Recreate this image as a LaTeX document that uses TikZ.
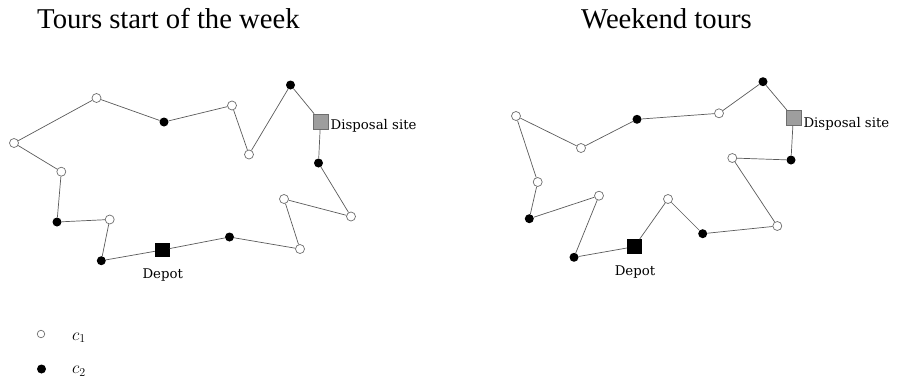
\documentclass[tikz,border=0pt]{standalone}
\usepackage{fontspec}
\usepackage{xcolor}
\usepackage{tikz}
\usetikzlibrary{positioning}
\newfontfamily\titlefont{Liberation Serif}
\newfontfamily\labelfont{DejaVu Serif}
\definecolor{tInk}{HTML}{5A5A5A}
\definecolor{tRim}{HTML}{6E6E6E}
\definecolor{tDump}{HTML}{9E9E9E}

\begin{document}
\begin{tikzpicture}[x=1pt, y=-1pt,
  openpt/.style={circle, draw=tRim, fill=white, line width=0.7pt, minimum size=9pt, inner sep=0pt},
  fullpt/.style={circle, fill=black, minimum size=9pt, inner sep=0pt},
  depotbox/.style={rectangle, fill=black, minimum size=14.5pt, inner sep=0pt},
  dumpbox/.style={rectangle, draw=tRim, fill=tDump, line width=0.5pt, minimum size=15pt, inner sep=0pt},
  tourline/.style={draw=tInk, line width=0.7pt},
  lbl/.style={font=\labelfont\fontsize{13.3}{16}\selectfont, inner sep=0pt},
  keytxt/.style={inner sep=0pt, anchor=base west, font=\fontsize{18}{21}\selectfont},
  ttl/.style={font=\titlefont\fontsize{28.7}{34}\selectfont, inner sep=0pt, anchor=base west}]
  \useasboundingbox (0,0) rectangle (900,378);

  % titles
  \node[ttl] (ttlA) at (37,28.3) {Tours start of the week};
  \node[ttl] (ttlB) at (581,28.3) {Weekend tours};

  % tours start of the week
  \node[openpt] (w1) at (14,143) {};
  \node[openpt] (w2) at (96.5,98) {};
  \node[fullpt] (w3) at (164,122) {};
  \node[openpt] (w4) at (232,105.5) {};
  \node[openpt] (w5) at (249,154.5) {};
  \node[fullpt] (w6) at (290.5,85) {};
  \node[dumpbox] (dumpA) at (320.5,121.5) {};
  \node[fullpt] (w7) at (318.5,163) {};
  \node[openpt] (w8) at (351,216.5) {};
  \node[openpt] (w9) at (284,199) {};
  \node[openpt] (w10) at (300,249) {};
  \node[fullpt] (w11) at (229.5,237) {};
  \node[depotbox] (depotA) at (162.3,250) {};
  \node[fullpt] (w12) at (101.3,260.7) {};
  \node[openpt] (w13) at (109.7,219.5) {};
  \node[fullpt] (w14) at (57,222) {};
  \node[openpt] (w15) at (61.3,171.7) {};
  \draw[tourline] (w1) -- (w2) -- (w3) -- (w4) -- (w5) -- (w6) -- (dumpA) -- (w7) -- (w8) -- (w9)
    -- (w10) -- (w11) -- (depotA) -- (w12) -- (w13) -- (w14) -- (w15) -- (w1);
  \node[lbl, anchor=base west] (dumpAtxt) at (330.5,129.3) {Disposal site};
  \node[lbl, anchor=base] (depotAtxt) at (162.7,278.3) {Depot};

  % weekend tours
  \node[openpt] (r1) at (516,116) {};
  \node[openpt] (r2) at (581,148) {};
  \node[fullpt] (r3) at (637,119.3) {};
  \node[openpt] (r4) at (719,113.3) {};
  \node[fullpt] (r5) at (763,81.7) {};
  \node[dumpbox] (dumpB) at (793.3,117.7) {};
  \node[fullpt] (r6) at (791,160) {};
  \node[openpt] (r7) at (732.3,158) {};
  \node[openpt] (r8) at (777.3,226) {};
  \node[fullpt] (r9) at (702.7,233.7) {};
  \node[openpt] (r10) at (668,199) {};
  \node[depotbox] (depotB) at (634.3,246.7) {};
  \node[fullpt] (r11) at (574,257.3) {};
  \node[openpt] (r12) at (599,195.7) {};
  \node[fullpt] (r13) at (529.3,218.7) {};
  \node[openpt] (r14) at (537.7,182) {};
  \draw[tourline] (r1) -- (r2) -- (r3) -- (r4) -- (r5) -- (dumpB) -- (r6) -- (r7) -- (r8) -- (r9)
    -- (r10) -- (depotB) -- (r11) -- (r12) -- (r13) -- (r14) -- (r1);
  \node[lbl, anchor=base west] (dumpBtxt) at (803.3,127.3) {Disposal site};
  \node[lbl, anchor=base] (depotBtxt) at (635,275) {Depot};

  % legend
  \node[openpt, minimum size=7.5pt] (keyA) at (41,334) {};
  \node[fullpt, minimum size=9pt] (keyB) at (41.5,369) {};
  \node[keytxt] (keyAtxt) at (72,340) {$c_1$};
  \node[keytxt] (keyBtxt) at (72,373.5) {$c_2$};
\end{tikzpicture}
\end{document}
